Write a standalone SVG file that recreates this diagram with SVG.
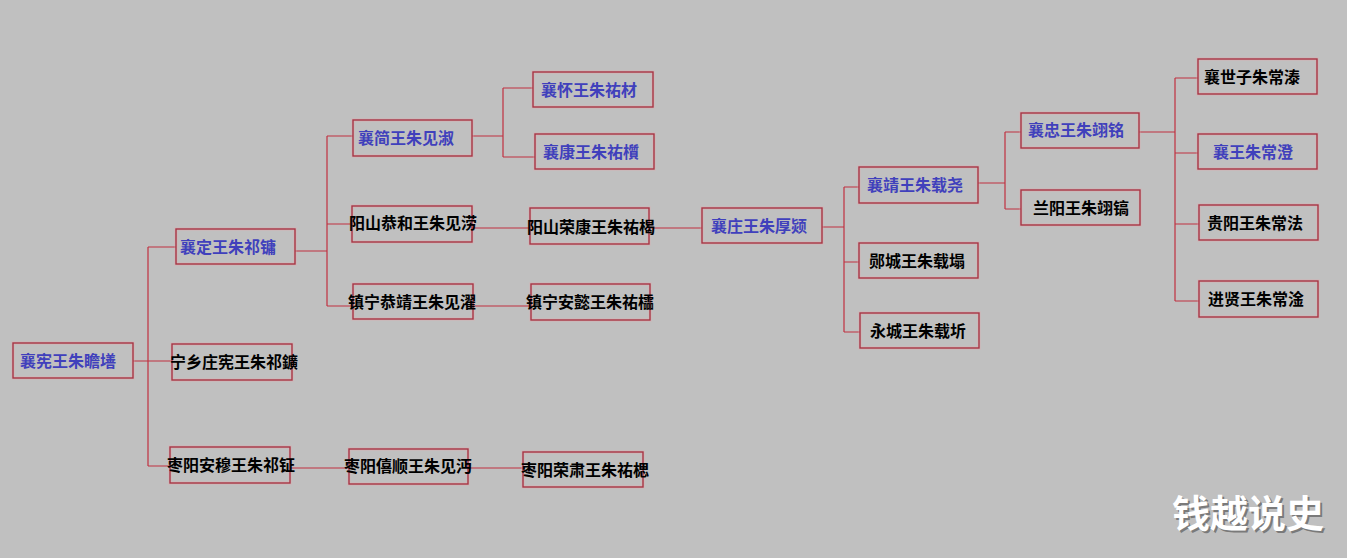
<svg xmlns="http://www.w3.org/2000/svg" width="1347" height="558" viewBox="0 0 1347 558">
<style>
.bx{fill:none;stroke:#a83444;stroke-width:1.4}
.hl{fill:none;stroke:#e4a8b0;stroke-width:3.5;opacity:.35}
.t{font-family:"Noto Sans CJK SC","Noto Sans CJK TC",sans-serif;font-size:16px;font-weight:bold}
.b{fill:#4040bc}
.k{fill:#000}
#connectors path{fill:none;stroke:#c03040;stroke-width:1.2}
.wm{font-family:"Noto Sans CJK SC",sans-serif;font-size:38px;font-weight:bold}
</style>
<rect x="0" y="0" width="1347" height="558" fill="#c0c0c0"/>
<g id="connectors">
<path d="M133,361 H172 M148,247 V466 M148,247 H176 M148,466 H170"/>
<path d="M295,251 H327 M327,136 V306 M327,136 H353 M327,224 H352 M327,306 H353"/>
<path d="M472,136 H503 M503,88 V157 M503,88 H533 M503,157 H535"/>
<path d="M472,228 H530 M649,228 H702 M473,306 H531"/>
<path d="M290,468 H349 M468,468 H523"/>
<path d="M822,227 H844 M844,187 V332 M844,187 H859 M844,262 H859 M844,332 H860"/>
<path d="M978,183 H1005 M1005,132 V209 M1005,132 H1021 M1005,209 H1021"/>
<path d="M1139,132 H1175 M1175,78 V301 M1175,78 H1198 M1175,153 H1198 M1175,224 H1199 M1175,301 H1199"/>
</g>
<g id="n1"><rect class="hl" x="13" y="343" width="120" height="35"/><rect class="bx" x="13" y="343" width="120" height="35"/><text class="t b" x="20" y="367">襄宪王朱瞻墡</text></g>
<g id="n2"><rect class="hl" x="176" y="229" width="119" height="35"/><rect class="bx" x="176" y="229" width="119" height="35"/><text class="t b" x="180" y="253">襄定王朱祁镛</text></g>
<g id="n3"><rect class="hl" x="172" y="344" width="120" height="36"/><rect class="bx" x="172" y="344" width="120" height="36"/><text class="t k" x="170" y="368">宁乡庄宪王朱祁鑛</text></g>
<g id="n4"><rect class="hl" x="170" y="447" width="120" height="36"/><rect class="bx" x="170" y="447" width="120" height="36"/><text class="t k" x="167" y="471">枣阳安穆王朱祁钲</text></g>
<g id="n5"><rect class="hl" x="353" y="120" width="119" height="36"/><rect class="bx" x="353" y="120" width="119" height="36"/><text class="t b" x="358" y="144">襄简王朱见淑</text></g>
<g id="n6"><rect class="hl" x="352" y="206" width="120" height="36"/><rect class="bx" x="352" y="206" width="120" height="36"/><text class="t k" x="349" y="229">阳山恭和王朱见涝</text></g>
<g id="n7"><rect class="hl" x="353" y="284" width="120" height="35"/><rect class="bx" x="353" y="284" width="120" height="35"/><text class="t k" x="348" y="308">镇宁恭靖王朱见濯</text></g>
<g id="n8"><rect class="hl" x="533" y="72" width="120" height="35"/><rect class="bx" x="533" y="72" width="120" height="35"/><text class="t b" x="541" y="96">襄怀王朱祐材</text></g>
<g id="n9"><rect class="hl" x="535" y="134" width="119" height="35"/><rect class="bx" x="535" y="134" width="119" height="35"/><text class="t b" x="543" y="158">襄康王朱祐櫍</text></g>
<g id="n10"><rect class="hl" x="530" y="208" width="119" height="36"/><rect class="bx" x="530" y="208" width="119" height="36"/><text class="t k" x="527" y="233">阳山荣康王朱祐楬</text></g>
<g id="n11"><rect class="hl" x="531" y="284" width="119" height="36"/><rect class="bx" x="531" y="284" width="119" height="36"/><text class="t k" x="526" y="308">镇宁安懿王朱祐櫺</text></g>
<g id="n12"><rect class="hl" x="349" y="449" width="119" height="35"/><rect class="bx" x="349" y="449" width="119" height="35"/><text class="t k" x="344" y="472">枣阳僖顺王朱见沔</text></g>
<g id="n13"><rect class="hl" x="523" y="452" width="120" height="35"/><rect class="bx" x="523" y="452" width="120" height="35"/><text class="t k" x="521" y="476">枣阳荣肃王朱祐楒</text></g>
<g id="n14"><rect class="hl" x="702" y="208" width="120" height="35"/><rect class="bx" x="702" y="208" width="120" height="35"/><text class="t b" x="711" y="232">襄庄王朱厚颎</text></g>
<g id="n15"><rect class="hl" x="859" y="167" width="119" height="36"/><rect class="bx" x="859" y="167" width="119" height="36"/><text class="t b" x="867" y="191">襄靖王朱载尧</text></g>
<g id="n16"><rect class="hl" x="859" y="243" width="119" height="35"/><rect class="bx" x="859" y="243" width="119" height="35"/><text class="t k" x="869" y="267">郧城王朱载塌</text></g>
<g id="n17"><rect class="hl" x="860" y="313" width="119" height="35"/><rect class="bx" x="860" y="313" width="119" height="35"/><text class="t k" x="870" y="337">永城王朱载圻</text></g>
<g id="n18"><rect class="hl" x="1021" y="113" width="118" height="35"/><rect class="bx" x="1021" y="113" width="118" height="35"/><text class="t b" x="1028" y="136">襄忠王朱翊铭</text></g>
<g id="n19"><rect class="hl" x="1021" y="190" width="119" height="35"/><rect class="bx" x="1021" y="190" width="119" height="35"/><text class="t k" x="1033" y="214">兰阳王朱翊镐</text></g>
<g id="n20"><rect class="hl" x="1198" y="59" width="119" height="35"/><rect class="bx" x="1198" y="59" width="119" height="35"/><text class="t k" x="1204" y="83">襄世子朱常溙</text></g>
<g id="n21"><rect class="hl" x="1198" y="134" width="119" height="35"/><rect class="bx" x="1198" y="134" width="119" height="35"/><text class="t b" x="1213" y="158">襄王朱常澄</text></g>
<g id="n22"><rect class="hl" x="1199" y="205" width="119" height="35"/><rect class="bx" x="1199" y="205" width="119" height="35"/><text class="t k" x="1207" y="229">贵阳王朱常法</text></g>
<g id="n23"><rect class="hl" x="1199" y="281" width="119" height="36"/><rect class="bx" x="1199" y="281" width="119" height="36"/><text class="t k" x="1208" y="305">进贤王朱常淦</text></g>
<text class="wm" x="1174" y="529" fill="#7a7a7a">钱越说史</text>
<text class="wm" x="1172" y="527" fill="#ffffff">钱越说史</text>
</svg>
